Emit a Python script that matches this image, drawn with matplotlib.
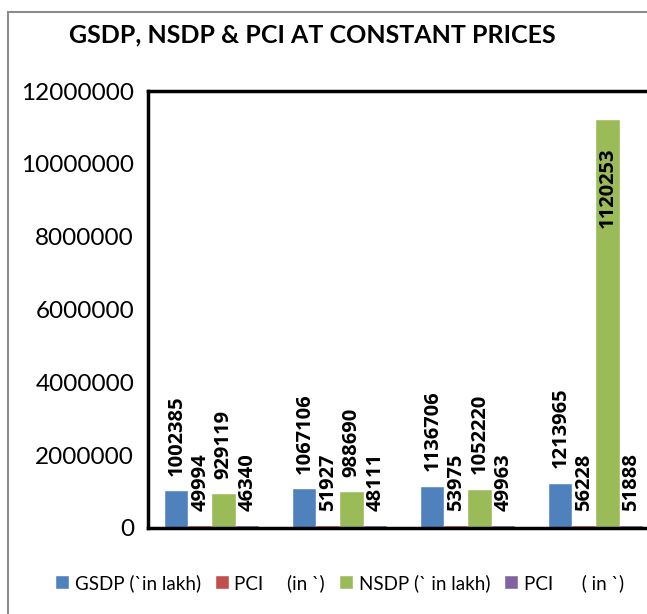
import numpy as np
import matplotlib
matplotlib.use("Agg")
import matplotlib.pyplot as plt
from matplotlib.patches import Rectangle

plt.rcParams['font.family'] = ['Lato', 'DejaVu Sans']

# data
years = ["2011-12", "2012-13", "2013-14", "2014-15"]
gsdp = [1002385, 1067106, 1136706, 1213965]
pci_1 = [49994, 51927, 53975, 56228]
nsdp = [929119, 988690, 1052220, 11202530]
pci_2 = [46340, 48111, 49963, 51888]
nsdp_labels = ["929119", "988690", "1052220", "1120253"]

series = [
    (gsdp, [str(v) for v in gsdp], "GSDP (`in lakh)", "#4F81BD"),
    (pci_1, [str(v) for v in pci_1], "PCI     (in `)", "#C0504D"),
    (nsdp, nsdp_labels, "NSDP (` in lakh)", "#9BBB59"),
    (pci_2, [str(v) for v in pci_2], "PCI      ( in `)", "#8064A2"),
]

fig = plt.figure(figsize=(6.47, 6.14), dpi=100)
# outer chart border
fig.patches.append(Rectangle((8 / 647, -0.05), 1.2, 1 - 12 / 614 + 0.05,
                             transform=fig.transFigure, fill=False,
                             edgecolor="#8c8c8c", linewidth=1.5))

ax = fig.add_axes([148 / 647, 1 - 528 / 614, 512 / 647, 437 / 614])

x = np.arange(len(years))
w = 0.184
for i, (vals, labels, name, color) in enumerate(series):
    pos = x + (i - 1.5) * w
    bars = ax.bar(pos, vals, width=w, color=color, label=name,
                  edgecolor="white", linewidth=0.3)
    for b, v, lab in zip(bars, vals, labels):
        if v > 5000000:
            ax.text(b.get_x() + b.get_width() / 2, v - 750000, lab,
                    rotation=90, ha="center", va="top", family="Open Sans",
                    fontsize=14.5, fontweight="bold")
        else:
            ax.text(b.get_x() + b.get_width() / 2, v + 420000, lab,
                    rotation=90, ha="center", va="bottom", family="Open Sans",
                    fontsize=14.5, fontweight="bold")

ax.set_xlim(-0.5, 3.5)
ax.set_ylim(0, 12000000)
ax.set_yticks(np.arange(0, 12000001, 2000000))
ax.set_yticklabels([str(int(v)) for v in np.arange(0, 12000001, 2000000)],
                   fontsize=17.5)
ax.tick_params(axis="y", length=0, pad=10)
ax.set_xticks([])
for s in ax.spines.values():
    s.set_linewidth(2.5)
    s.set_color("black")

fig.text(312 / 647, 1 - 35 / 614, "GSDP, NSDP & PCI AT CONSTANT PRICES",
         ha="center", va="center", fontsize=18, fontweight="bold")

fig.legend(loc="center", bbox_to_anchor=(340 / 647, 1 - 583 / 614), ncol=4,
           frameon=False, fontsize=13.5, handlelength=0.7, handleheight=0.7,
           handletextpad=0.3, columnspacing=0.8)

fig.savefig("out.png", dpi=100)
